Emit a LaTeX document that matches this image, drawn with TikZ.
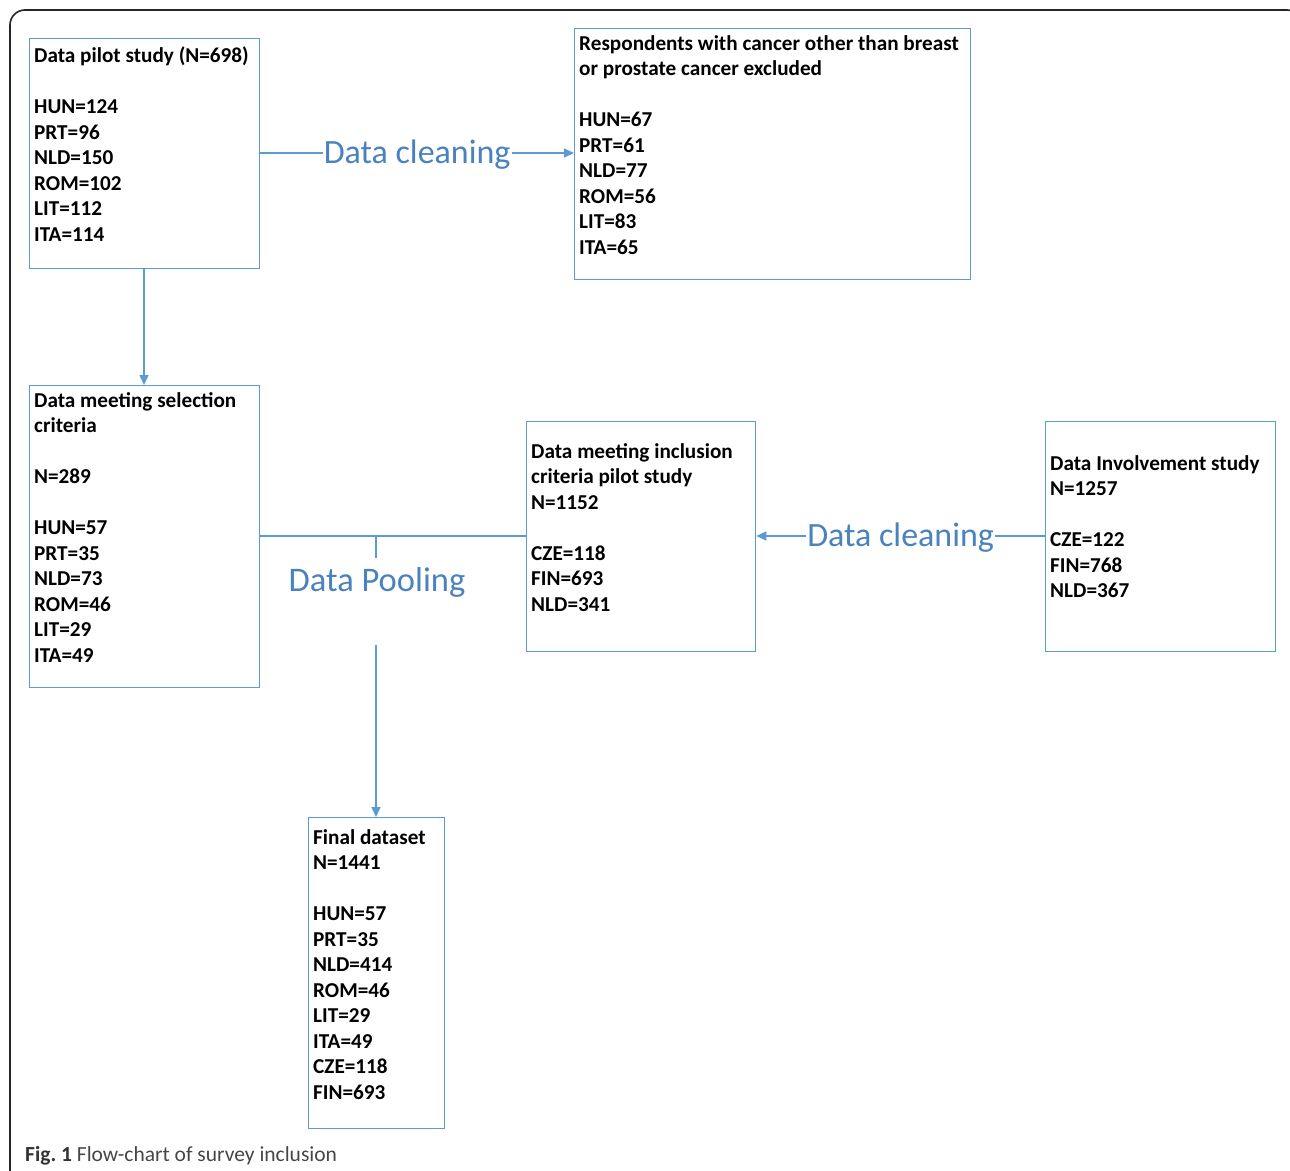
\documentclass[tikz,border=0pt]{standalone}
\usepackage{fontspec}
\setmainfont{Carlito}
\usetikzlibrary{arrows.meta}
\definecolor{boxblue}{RGB}{91,155,213}
\definecolor{lblblue}{RGB}{74,130,190}
\definecolor{capgray}{RGB}{70,70,70}
\tikzset{
  box/.style={draw=boxblue, line width=1.3pt, rectangle, inner sep=0pt},
  boxtext/.style={anchor=north west, inner sep=0pt, align=left, font=\fontsize{21.2}{25.5}\selectfont\bfseries},
  conn/.style={draw=boxblue, line width=1.5pt},
  arr/.style={conn, -{Triangle[length=10pt,width=9pt]}},
  lbl/.style={text=lblblue, fill=white, inner sep=1pt, yshift=-2pt, font=\fontsize{34}{34}\selectfont},
}
\begin{document}
\begin{tikzpicture}[x=1pt,y=-1pt]
\useasboundingbox (0,0) rectangle (1290,1170);
\begin{scope}
\clip (0,0) rectangle (1290,1170);
\draw[line width=1.6pt, black!85, rounded corners=15pt] (10,1200) -- (10,10) -- (1302,10) -- (1302,1200);
\end{scope}

% boxes
\node[box, minimum width=230pt, minimum height=230pt, anchor=north west] (A) at (29,38) {};
\node[box, minimum width=396pt, minimum height=251pt, anchor=north west] (B) at (574,28) {};
\node[box, minimum width=230pt, minimum height=302pt, anchor=north west] (C) at (29,385) {};
\node[box, minimum width=229pt, minimum height=230pt, anchor=north west] (D) at (526,421) {};
\node[box, minimum width=230pt, minimum height=230pt, anchor=north west] (E) at (1045,421) {};
\node[box, minimum width=136pt, minimum height=311pt, anchor=north west] (F) at (308,817) {};

% texts
\node[boxtext] (tA) at (34,47) {Data pilot study (N=698)\\[25.5pt]HUN=124\\PRT=96\\NLD=150\\ROM=102\\LIT=112\\ITA=114};
\node[boxtext] (tB) at (579,35) {Respondents with cancer other than breast\\or prostate cancer excluded\\[25.5pt]HUN=67\\PRT=61\\NLD=77\\ROM=56\\LIT=83\\ITA=65};
\node[boxtext] (tC) at (34,392) {Data meeting selection\\criteria\\[25.5pt]N=289\\[25.5pt]HUN=57\\PRT=35\\NLD=73\\ROM=46\\LIT=29\\ITA=49};
\node[boxtext] (tD) at (531,443) {Data meeting inclusion\\criteria pilot study\\N=1152\\[25.5pt]CZE=118\\FIN=693\\NLD=341};
\node[boxtext] (tE) at (1050,455) {Data Involvement study\\N=1257\\[25.5pt]CZE=122\\FIN=768\\NLD=367};
\node[boxtext] (tF) at (313,829) {Final dataset\\N=1441\\[25.5pt]HUN=57\\PRT=35\\NLD=414\\ROM=46\\LIT=29\\ITA=49\\CZE=118\\FIN=693};

% connectors
\draw[arr] (A.east |- 0,153) -- node[lbl] (l1) {Data cleaning} (B.west |- 0,153);
\draw[arr] (A.south -| 144,0) -- (C.north -| 144,0);
\draw[arr] (E.west |- 0,536) -- node[lbl] (l2) {Data cleaning} (D.east |- 0,536);
\draw[conn] (C.east |- 0,536) -- (D.west |- 0,536);
\coordinate (j) at (376,536);
\coordinate (jt) at (376,558);
\coordinate (jb) at (376,645);
\draw[conn] (j) -- (jt);
\node[text=lblblue, inner sep=0pt, font=\fontsize{34.5}{34}\selectfont] (pool) at (377,582) {Data Pooling};
\draw[arr] (jb) -- (F.north -| jb);

% caption
\node[anchor=base west, inner sep=0pt, font=\fontsize{21.5}{24}\selectfont, text=capgray] (cap) at (25,1161) {\textbf{\color{black!80}Fig.~1} Flow-chart of survey inclusion};
\end{tikzpicture}
\end{document}
